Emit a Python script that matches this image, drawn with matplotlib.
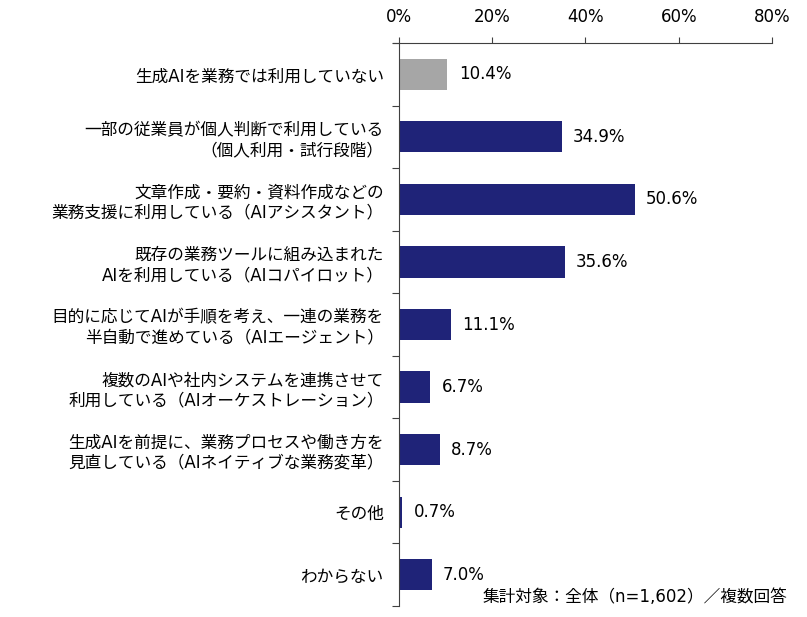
import matplotlib
matplotlib.use("Agg")
import matplotlib.pyplot as plt
import numpy as np

plt.rcParams['font.family'] = ['DejaVu Sans', 'Noto Sans CJK JP']

labels = [
    "生成AIを業務では利用していない",
    "一部の従業員が個人判断で利用している\n（個人利用・試行段階）",
    "文章作成・要約・資料作成などの\n業務支援に利用している（AIアシスタント）",
    "既存の業務ツールに組み込まれた\nAIを利用している（AIコパイロット）",
    "目的に応じてAIが手順を考え、一連の業務を\n半自動で進めている（AIエージェント）",
    "複数のAIや社内システムを連携させて\n利用している（AIオーケストレーション）",
    "生成AIを前提に、業務プロセスや働き方を\n見直している（AIネイティブな業務変革）",
    "その他",
    "わからない",
]
values = [10.4, 34.9, 50.6, 35.6, 11.1, 6.7, 8.7, 0.7, 7.0]
xticks = [0, 20, 40, 60, 80]

navy = "#1F2378"
gray = "#A6A6A6"
colors = [gray] + [navy] * (len(values) - 1)

fig = plt.figure(figsize=(8.07, 6.17), dpi=100)
ax = fig.add_axes([0.4944, 0.0178, 0.4622, 0.9125])

y = np.arange(len(values))
ax.barh(y, values, height=0.5, color=colors)
ax.set_ylim(len(values) - 0.5, -0.5)
ax.set_xlim(0, 80)

for yi, v in zip(y, values):
    ax.text(v + 2.4, yi, f"{v:.1f}%", va="center", ha="left", fontsize=12)

ax.xaxis.tick_top()
ax.set_xticks(xticks)
ax.set_xticklabels([f"{t}%" for t in xticks], fontsize=12)
ax.tick_params(axis="x", direction="out", length=4, pad=8, color="#404040")

ax.set_yticks(np.arange(len(values) + 1) - 0.5, minor=False)
ax.set_yticklabels([])
ax.set_yticks(y, minor=True)
ax.set_yticklabels(labels, minor=True, fontsize=12, ha="right",
                   multialignment="right", linespacing=1.15)
ax.tick_params(axis="y", which="minor", length=0, pad=11)
ax.tick_params(axis="y", which="major", length=5, color="#404040")

for s in ["right", "bottom"]:
    ax.spines[s].set_visible(False)
ax.spines["top"].set_color("#404040")
ax.spines["left"].set_color("#404040")
ax.spines["top"].set_bounds(-1.2, 80)
ax.spines["top"].set_clip_on(False)

fig.text(0.976, 0.032, "集計対象：全体（n=1,602）／複数回答", ha="right", va="center", fontsize=12)

fig.savefig("out.png", dpi=100)
